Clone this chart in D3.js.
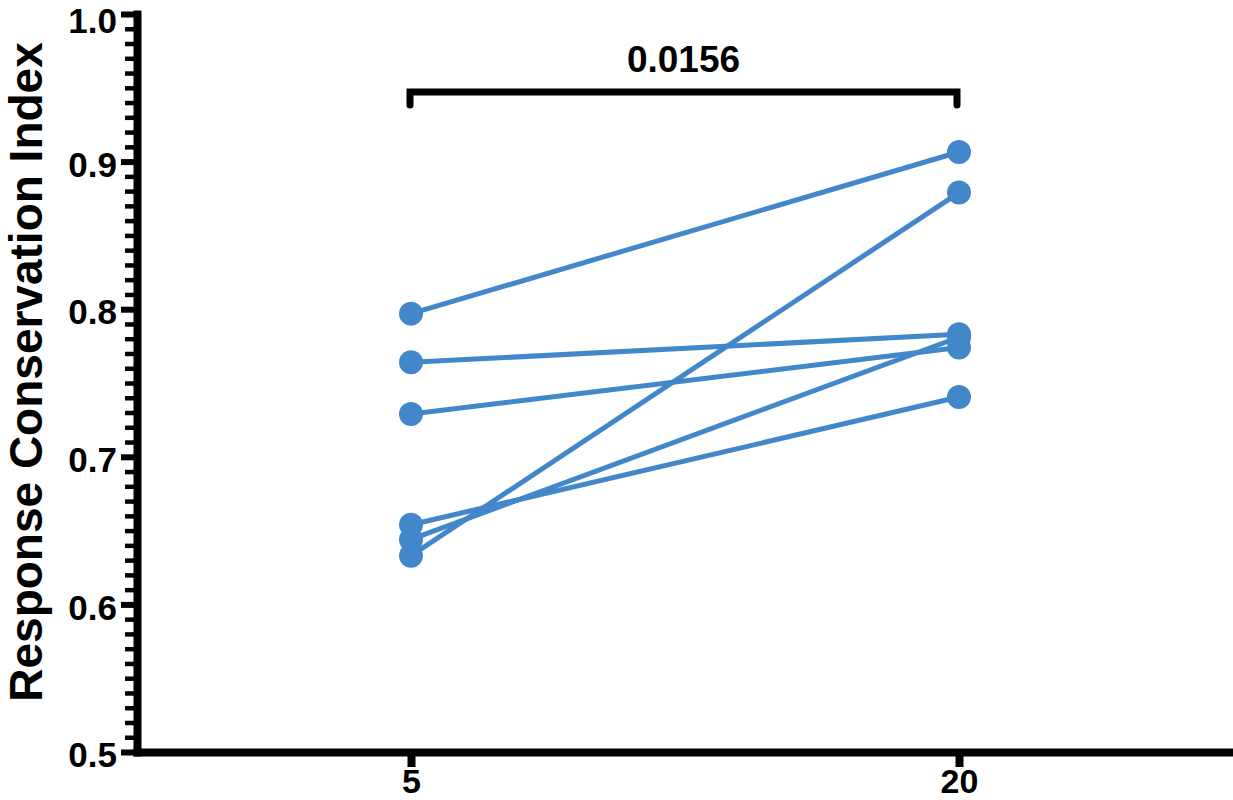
<!DOCTYPE html>
<html>
<head>
<meta charset="utf-8">
<script src="https://cdn.jsdelivr.net/npm/d3@7"></script>
<style>
  html, body { margin: 0; padding: 0; background: #fff; }
  svg { display: block; }
  text { font-family: "Liberation Sans", Arial, Helvetica, sans-serif; font-weight: bold; fill: #000; }
</style>
</head>
<body>
<svg id="chart" width="1233" height="800"></svg>
<script>
// ---- data ----
const categories = ["5", "20"];
const before = [0.797, 0.764, 0.729, 0.654, 0.644, 0.633];   // at 5
const after  = [0.9065, 0.783, 0.774, 0.7405, 0.781, 0.879]; // at 20
const yMajorTicks = [0.5, 0.6, 0.7, 0.8, 0.9, 1.0];
const yMinorTicks = d3.range(50, 101).map(v => v / 100);
const yTitle = "Response Conservation Index";
const pValueLabel = "0.0156";

// ---- layout ----
const svg = d3.select("#chart");
const blue = "#4287c9";
const x = d3.scalePoint().domain(categories).range([137, 1233]).padding(0.5);
const y = d3.scaleLinear().domain([0.5, 1.0]).range([752, 14]);

// minor y ticks
svg.append("g")
  .attr("transform", "translate(137,0)")
  .call(d3.axisLeft(y).tickValues(yMinorTicks).tickSize(12).tickSizeOuter(0).tickFormat(""))
  .call(g => g.select(".domain").remove())
  .call(g => g.selectAll(".tick line").attr("stroke", "#000").attr("stroke-width", 4.5));

// major y ticks + labels
const yAxis = svg.append("g")
  .attr("transform", "translate(137,0)")
  .call(d3.axisLeft(y).tickValues(yMajorTicks).tickSize(16).tickSizeOuter(0).tickPadding(4).tickFormat(d3.format(".1f")));
yAxis.select(".domain").attr("stroke", "#000").attr("stroke-width", 8).attr("stroke-linecap", "square");
yAxis.selectAll(".tick line").attr("stroke", "#000").attr("stroke-width", 6);
yAxis.selectAll(".tick text").attr("font-size", 35).attr("font-family", "'Liberation Sans', Arial, sans-serif").attr("font-weight", "bold").attr("fill", "#000")
  .attr("dy", d => d === 1.0 ? "0.52em" : "0.42em");

// x axis
const xAxis = svg.append("g")
  .attr("transform", "translate(0,752)")
  .call(d3.axisBottom(x).tickSize(15).tickSizeOuter(0).tickPadding(2));
xAxis.select(".domain").attr("stroke", "#000").attr("stroke-width", 8).attr("stroke-linecap", "square");
xAxis.selectAll(".tick line").attr("stroke", "#000").attr("stroke-width", 8);
xAxis.selectAll(".tick text").attr("font-size", 34).attr("font-family", "'Liberation Sans', Arial, sans-serif").attr("font-weight", "bold").attr("fill", "#000").attr("dy", "0.72em");

// y title
svg.append("text")
  .attr("transform", "rotate(-90)")
  .attr("x", -372)
  .attr("y", 42)
  .attr("text-anchor", "middle")
  .attr("font-size", 46)
  .text(yTitle);

// paired lines
const pairs = before.map((b, i) => ({ b, a: after[i] }));
svg.append("g").selectAll("line")
  .data(pairs).join("line")
  .attr("x1", x(categories[0])).attr("y1", d => y(d.b))
  .attr("x2", x(categories[1])).attr("y2", d => y(d.a))
  .attr("stroke", blue).attr("stroke-width", 5);

// points
const pts = [];
before.forEach(v => pts.push({ c: categories[0], v }));
after.forEach(v => pts.push({ c: categories[1], v }));
svg.append("g").selectAll("circle")
  .data(pts).join("circle")
  .attr("cx", d => x(d.c)).attr("cy", d => y(d.v)).attr("r", 12)
  .attr("fill", blue);

// significance bracket
const bx1 = x(categories[0]) - 1, bx2 = x(categories[1]) - 2;
const by = 92, leg = 13;
svg.append("path")
  .attr("d", d3.line()([[bx1, by + leg], [bx1, by], [bx2, by], [bx2, by + leg]]))
  .attr("fill", "none").attr("stroke", "#000").attr("stroke-width", 7)
  .attr("stroke-linecap", "round").attr("stroke-linejoin", "miter");
svg.append("text")
  .attr("x", (bx1 + bx2) / 2)
  .attr("y", 72)
  .attr("text-anchor", "middle")
  .attr("font-size", 37)
  .text(pValueLabel);
</script>
</body>
</html>
